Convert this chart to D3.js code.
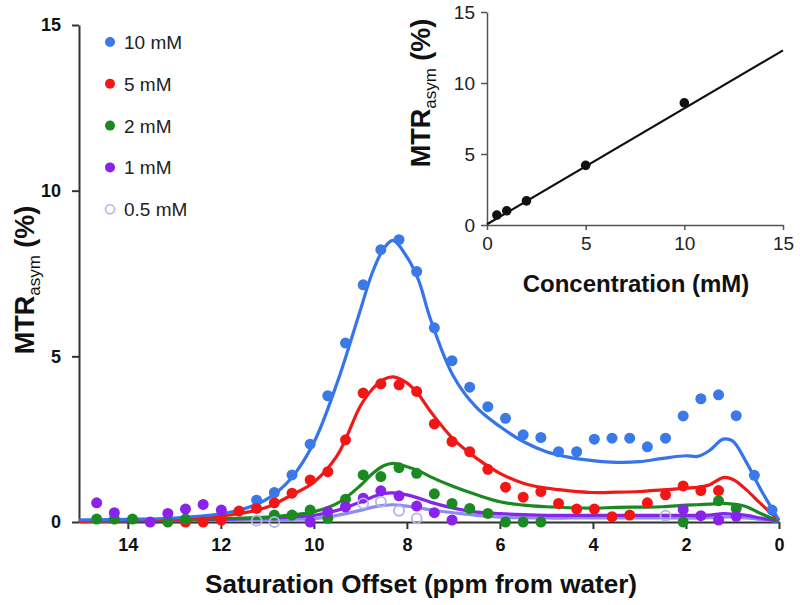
<!DOCTYPE html>
<html lang="en">
<head>
<meta charset="UTF-8" />
<title>MTRasym vs saturation offset</title>
<script src="https://cdnjs.cloudflare.com/ajax/libs/d3/7.8.5/d3.min.js"></script>
<style>
  * { margin: 0; padding: 0; box-sizing: border-box; }
  body { background: #fff; width: 800px; height: 605px; overflow: hidden; }
  svg { display: block; font-family: Arial, 'Liberation Sans', sans-serif; }
</style>
</head>
<body>
<svg id="chart" width="800" height="605"></svg>
<script>
  // -------- data (null = point hidden behind other marks) --------
  const offsets = [14.67, 14.29, 13.90, 13.52, 13.14, 12.76, 12.38, 11.99, 11.61, 11.23,
                   10.85, 10.47, 10.08, 9.70, 9.32, 8.94, 8.56, 8.17, 7.79, 7.41,
                   7.03, 6.65, 6.26, 5.88, 5.50, 5.12, 4.74, 4.35, 3.97, 3.59,
                   3.21, 2.83, 2.44, 2.06, 1.68, 1.30, 0.92, 0.53, 0.15];

  const mtr10 = [null, null, null, null, null, null, null, null, null, 0.66,
                 0.89, 1.42, 2.35, 3.81, 5.40, 7.16, 8.22, 8.52, 7.56, 5.86,
                 4.87, 4.07, 3.48, 3.13, 2.63, 2.55, 2.12, 2.12, 2.50, 2.53,
                 2.53, 2.27, 2.53, 3.20, 3.72, 3.84, 3.21, 1.41, 0.36];
  const mtr5 = [null, null, null, null, null, 0.00, 0.00, 0.06, 0.33, 0.41,
                0.58, 0.87, 1.27, 1.52, 2.48, 3.89, 4.17, 4.14, 3.94, 2.96,
                2.43, 2.12, 1.59, 1.05, 0.75, 0.92, 0.56, 0.39, 0.39, 0.16,
                0.21, 0.58, 0.82, 1.09, 0.95, 0.95, null, null, null];
  const mtr2 = [0.09, 0.09, 0.09, null, 0.00, 0.09, null, null, null, null,
                0.21, 0.21, 0.36, 0.11, 0.69, 1.42, 1.37, 1.64, 1.47, 0.85,
                0.56, 0.41, 0.26, 0.00, 0.00, 0.00, null, null, null, null,
                null, null, null, 0.00, null, 0.64, 0.41, null, null];
  const mtr1 = [0.58, 0.28, null, 0.00, 0.26, 0.39, 0.53, 0.36, null, null,
                null, null, 0.00, 0.31, 0.46, 0.72, 0.94, 0.79, 0.48, 0.28,
                0.06, null, null, null, null, null, null, null, null, null,
                null, null, null, 0.38, 0.19, 0.06, 0.17, null, null];
  const mtr05 = [null, null, null, null, null, null, null, null, null, 0.04,
                 0.00, null, null, null, null, 0.56, 0.61, 0.34, 0.11, null,
                 null, null, null, null, null, null, null, null, null, null,
                 null, null, 0.19, null, null, null, null, null, null];

  // fitted curves, sampled by eye
  const fitOffsets = [15.05, 14, 13, 12, 11.5, 11, 10.5, 10, 9.5, 9, 8.75, 8.5, 8.3, 8,
                      7.75, 7.5, 7, 6.5, 6, 5.5, 5, 4.5, 4, 3.5, 3, 2.5, 2, 1.75, 1.5,
                      1.2, 1, 0.7, 0.4, 0];
  const fit10 = [0.06, 0.08, 0.12, 0.25, 0.40, 0.70, 1.30, 2.40, 4.20, 6.40, 7.50, 8.25, 8.50, 8.00,
                 7.30, 6.15, 4.40, 3.45, 2.88, 2.43, 2.12, 1.95, 1.85, 1.80, 1.82, 1.92, 2.00, 1.98, 2.15,
                 2.50, 2.45, 1.80, 1.00, 0.05];
  const fit5 = [0.02, 0.04, 0.08, 0.18, 0.28, 0.45, 0.80, 1.20, 2.00, 3.50, 4.00, 4.30, 4.38, 4.20,
                3.85, 3.35, 2.50, 1.92, 1.47, 1.17, 1.02, 0.94, 0.89, 0.90, 0.92, 0.97, 1.02, 1.05, 1.12,
                1.34, 1.29, 0.97, 0.56, 0.05];
  const fit2 = [0.03, 0.05, 0.07, 0.10, 0.12, 0.15, 0.21, 0.31, 0.56, 1.10, 1.45, 1.70, 1.77, 1.67,
                1.55, 1.37, 1.07, 0.82, 0.61, 0.51, 0.46, 0.43, 0.42, 0.44, 0.45, 0.46, 0.51, 0.52, 0.54,
                0.56, 0.54, 0.46, 0.26, 0.02];
  const fit1 = [0.05, 0.05, 0.06, 0.08, 0.10, 0.12, 0.15, 0.20, 0.35, 0.60, 0.75, 0.86, 0.88, 0.82,
                0.72, 0.60, 0.42, 0.30, 0.25, 0.22, 0.20, 0.20, 0.20, 0.20, 0.20, 0.20, 0.20, 0.20, 0.21,
                0.25, 0.24, 0.20, 0.12, 0.02];
  const fit05 = [0.03, 0.04, 0.05, 0.06, 0.07, 0.07, 0.08, 0.10, 0.20, 0.35, 0.44, 0.50, 0.52, 0.48,
                 0.43, 0.37, 0.28, 0.20, 0.15, 0.13, 0.12, 0.12, 0.12, 0.12, 0.12, 0.12, 0.12, 0.12, 0.13,
                 0.15, 0.15, 0.12, 0.08, 0.02];

  const seriesLabels = ['10 mM', '5 mM', '2 mM', '1 mM', '0.5 mM'];
  const xTicks = [14, 12, 10, 8, 6, 4, 2, 0];
  const yTicks = [0, 5, 10, 15];

  // inset: peak MTRasym vs concentration
  const concentrations = [0.5, 1, 2, 5, 10];
  const peakMtr = [0.7, 1.0, 1.7, 4.2, 8.6];
  const lineConc = [0, 15];
  const lineMtr = [0.05, 12.3];
  const insetTicks = [0, 5, 10, 15];

  // -------- styling --------
  const series = [
    { label: seriesLabels[0], pts: mtr10, fit: fit10, color: '#3b79e9', line: '#3574ea', open: false },
    { label: seriesLabels[1], pts: mtr5,  fit: fit5,  color: '#f41515', line: '#f21818', open: false },
    { label: seriesLabels[2], pts: mtr2,  fit: fit2,  color: '#1b8a22', line: '#1a8a20', open: false },
    { label: seriesLabels[3], pts: mtr1,  fit: fit1,  color: '#8a22ee', line: '#8526ea', open: false },
    { label: seriesLabels[4], pts: mtr05, fit: fit05, color: '#b4b4e2', line: '#8c8cf2', open: true }
  ];

  const svg = d3.select('#chart');
  const x = d3.scaleLinear().domain([15.05, 0]).range([79, 779]);
  const y = d3.scaleLinear().domain([0, 15]).range([522, 25]);

  // -------- main axes --------
  const gx = svg.append('g').attr('transform', 'translate(0,522)')
    .call(d3.axisBottom(x).tickValues(xTicks).tickSize(7).tickSizeOuter(0).tickPadding(9).tickFormat(d3.format('d')));
  const gy = svg.append('g').attr('transform', 'translate(79,0)')
    .call(d3.axisLeft(y).tickValues(yTicks).tickSize(7).tickSizeOuter(0).tickPadding(11));
  [gx, gy].forEach(g => {
    g.select('.domain').attr('stroke', '#333').attr('stroke-width', 2);
    g.selectAll('.tick line').attr('stroke', '#333').attr('stroke-width', 2);
    g.selectAll('.tick text').attr('fill', '#111').attr('font-size', 18).attr('font-weight', 'bold')
      .attr('font-family', 'Arial, "Liberation Sans", sans-serif');
  });

  svg.append('text')
    .attr('x', 421).attr('y', 593)
    .attr('text-anchor', 'middle')
    .attr('font-size', 25).attr('font-weight', 'bold').attr('fill', '#111')
    .attr('textLength', 432).attr('lengthAdjust', 'spacingAndGlyphs')
    .text('Saturation Offset (ppm from water)');

  function mtrTitle(g, cx, cy) {
    const t = g.append('text')
      .attr('transform', `translate(${cx},${cy}) rotate(-90)`)
      .attr('text-anchor', 'middle')
      .attr('font-weight', 'bold').attr('fill', '#111');
    t.append('tspan').attr('font-size', 27).text('MTR');
    t.append('tspan').attr('font-size', 17).attr('font-weight', 'normal').attr('dy', 6).text('asym');
    t.append('tspan').attr('font-size', 27).attr('dy', -6).text(' (%)');
  }
  mtrTitle(svg, 34, 280);

  // -------- fitted curves --------
  const line = d3.line()
    .x(d => x(d[0]))
    .y(d => y(d[1]))
    .curve(d3.curveCatmullRom.alpha(0.5));

  series.slice().reverse().forEach(s => {
    svg.append('path')
      .datum(fitOffsets.map((o, i) => [o, s.fit[i]]))
      .attr('fill', 'none')
      .attr('stroke', s.line)
      .attr('stroke-width', 3.2)
      .attr('stroke-linejoin', 'round')
      .attr('d', line);
  });

  // -------- data points --------
  series.forEach(s => {
    svg.append('g').selectAll('circle')
      .data(offsets.map((o, i) => [o, s.pts[i]]).filter(d => d[1] != null))
      .enter().append('circle')
      .attr('cx', d => x(d[0]))
      .attr('cy', d => y(d[1]))
      .attr('r', s.open ? 5 : 5.5)
      .attr('fill', s.open ? 'none' : s.color)
      .attr('stroke', s.open ? s.color : 'none')
      .attr('stroke-width', 1.8);
  });

  // -------- legend --------
  const legend = svg.append('g');
  series.forEach((s, i) => {
    const ly = 42 + i * 41.8;
    legend.append('circle')
      .attr('cx', 110).attr('cy', ly).attr('r', s.open ? 4.5 : 5)
      .attr('fill', s.open ? 'none' : s.color)
      .attr('stroke', s.open ? s.color : 'none').attr('stroke-width', 1.6);
    legend.append('text')
      .attr('x', 124).attr('y', ly + 7)
      .attr('font-size', 19).attr('fill', '#222')
      .text(s.label);
  });

  // -------- inset --------
  const xi = d3.scaleLinear().domain([0, 15]).range([487, 783]);
  const yi = d3.scaleLinear().domain([0, 15]).range([225, 12]);
  const inset = svg.append('g');

  const gxi = inset.append('g').attr('transform', 'translate(0,225)')
    .call(d3.axisBottom(xi).tickValues(insetTicks).tickSize(5).tickSizeOuter(0).tickPadding(7));
  const gyi = inset.append('g').attr('transform', 'translate(487,0)')
    .call(d3.axisLeft(yi).tickValues(insetTicks).tickSize(6).tickSizeOuter(0).tickPadding(6));
  [gxi, gyi].forEach(g => {
    g.select('.domain').attr('stroke', '#555').attr('stroke-width', 1.5);
    g.selectAll('.tick line').attr('stroke', '#555').attr('stroke-width', 1.5);
    g.selectAll('.tick text').attr('fill', '#222').attr('font-size', 19)
      .attr('font-family', 'Arial, "Liberation Sans", sans-serif');
  });

  inset.append('path')
    .datum(lineConc.map((c, i) => [c, lineMtr[i]]))
    .attr('fill', 'none').attr('stroke', '#111').attr('stroke-width', 2.2)
    .attr('d', d3.line().x(d => xi(d[0])).y(d => yi(d[1])));

  inset.selectAll('circle.pt')
    .data(concentrations.map((c, i) => [c, peakMtr[i]]))
    .enter().append('circle')
    .attr('cx', d => xi(d[0])).attr('cy', d => yi(d[1]))
    .attr('r', 4.8).attr('fill', '#111');

  inset.append('text')
    .attr('x', 636).attr('y', 292)
    .attr('text-anchor', 'middle')
    .attr('font-size', 24).attr('font-weight', 'bold').attr('fill', '#111')
    .text('Concentration (mM)');
  mtrTitle(inset, 430, 93);
</script>
</body>
</html>
